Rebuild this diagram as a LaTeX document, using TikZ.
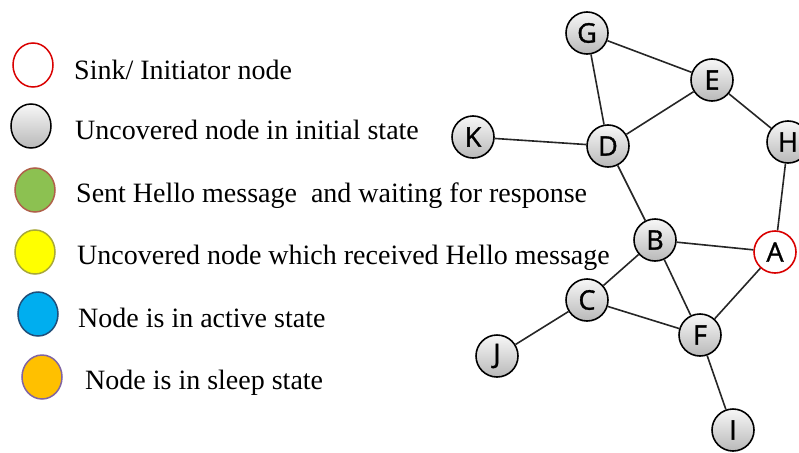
\documentclass[tikz,border=0pt]{standalone}
\usepackage{fontspec}
\setmainfont{Liberation Serif}
\newfontfamily\letterfont[FakeBold=1.2]{Open Sans}
\usepackage{xcolor}
\usetikzlibrary{shapes.geometric}

\definecolor{sentgreen}{HTML}{8CC151}
\definecolor{sentrim}{HTML}{B0604A}
\definecolor{hellofill}{HTML}{FFFF00}
\definecolor{hellorim}{HTML}{A8A838}
\definecolor{activefill}{HTML}{00AEEF}
\definecolor{activerim}{HTML}{1F4E79}
\definecolor{sleepfill}{HTML}{FFC000}
\definecolor{sleeprim}{HTML}{8064A2}

\begin{document}
\begin{tikzpicture}[
  x=1pt, y=-1pt,
  vertex/.style={circle, draw=black, line width=1.6pt, top color=gray!6, bottom color=gray!55,
                 minimum size=42pt, inner sep=0pt, font=\letterfont\fontsize{27}{27}\selectfont},
  sink/.style={vertex, draw=red!85!black, top color=white, bottom color=white},
  key/.style={ellipse, line width=1.5pt, minimum width=40pt, minimum height=44pt, inner sep=0pt},
  keytext/.style={anchor=base west, inner sep=0pt, font=\fontsize{28}{30}\selectfont},
  link/.style={draw=black!85, line width=1.6pt}
]
  \useasboundingbox (0,0) rectangle (799,452);

  % legend
  \node[key, draw=red!85!black, fill=white]           (k1) at (33,65)  {};
  \node[key, draw=black, top color=gray!6, bottom color=gray!55] (k2) at (31,126) {};
  \node[key, draw=sentrim, fill=sentgreen]             (k3) at (35,190) {};
  \node[key, draw=hellorim, fill=hellofill]            (k4) at (35,252) {};
  \node[key, draw=activerim, fill=activefill]          (k5) at (38,314) {};
  \node[key, draw=sleeprim, fill=sleepfill]            (k6) at (42,377) {};

  \node[keytext] (t1) at (74,79)  {Sink/ Initiator node};
  \node[keytext] (t2) at (75,139) {Uncovered node in initial state};
  \node[keytext] (t3) at (76,202) {Sent Hello message \ and waiting for response};
  \node[keytext] (t4) at (77,264) {Uncovered node which received Hello message};
  \node[keytext] (t5) at (78,327) {Node is in active state};
  \node[keytext] (t6) at (85,389) {Node is in sleep state};

  % network
  \node[vertex] (G) at (587,33)  {G};
  \node[vertex] (E) at (712,80)  {E};
  \node[vertex] (K) at (473,137) {K};
  \node[vertex] (D) at (608,146) {D};
  \node[vertex] (H) at (788,142) {H};
  \node[vertex] (B) at (655,240) {B};
  \node[sink]   (A) at (775,252) {A};
  \node[vertex] (C) at (587,300) {C};
  \node[vertex] (F) at (700,335) {F};
  \node[vertex] (J) at (497,356) {J};
  \node[vertex] (I) at (733,430) {I};

  \draw[link] (G) -- (E);
  \draw[link] (G) -- (D);
  \draw[link] (D) -- (E);
  \draw[link] (E) -- (H);
  \draw[link] (K) -- (D);
  \draw[link] (D) -- (B);
  \draw[link] (H) -- (A);
  \draw[link] (B) -- (A);
  \draw[link] (B) -- (C);
  \draw[link] (B) -- (F);
  \draw[link] (C) -- (F);
  \draw[link] (A) -- (F);
  \draw[link] (C) -- (J);
  \draw[link] (F) -- (I);
\end{tikzpicture}
\end{document}
